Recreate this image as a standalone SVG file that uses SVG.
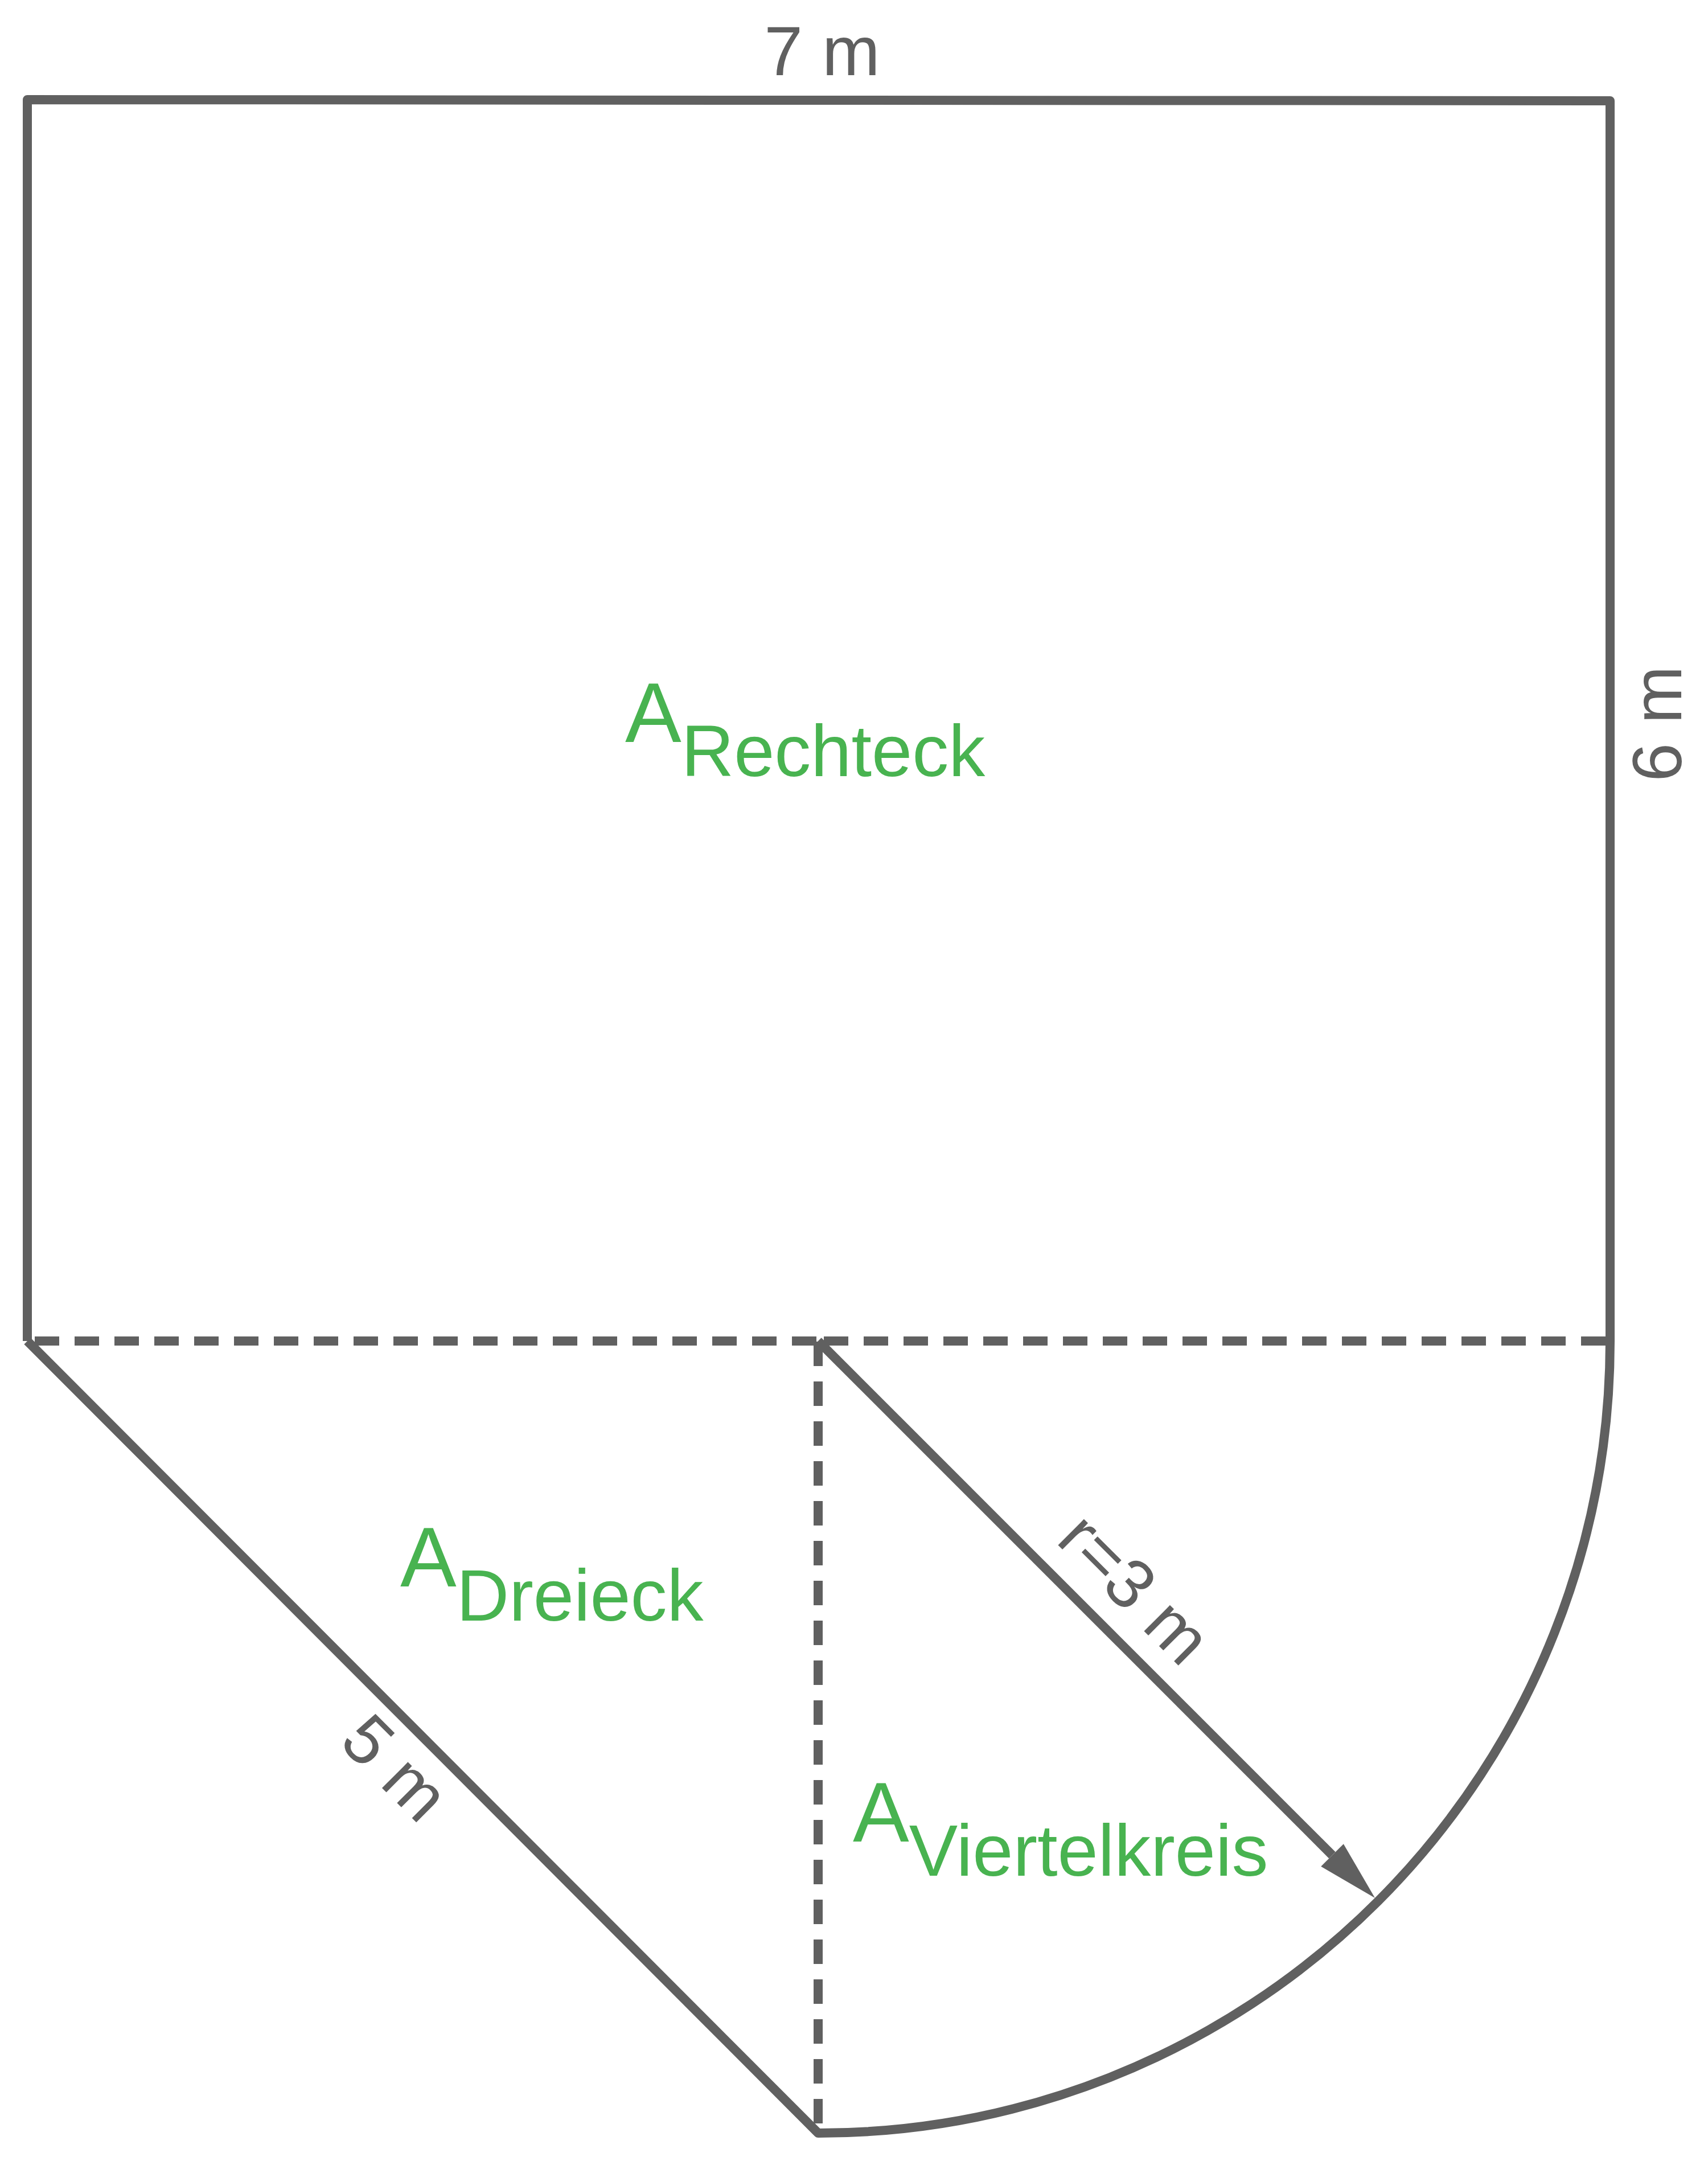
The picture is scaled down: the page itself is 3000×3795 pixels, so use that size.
<svg xmlns="http://www.w3.org/2000/svg" width="3000" height="3795" viewBox="0 0 3000 3795">
<style>
.ln{fill:none;stroke:#606060;stroke-width:16;stroke-linejoin:round}
.dash{fill:none;stroke:#606060;stroke-width:16;stroke-dasharray:43 27}
.dim{font-family:"Liberation Sans",Arial,sans-serif;font-size:122px;fill:#606060}
.lab{font-family:"Liberation Sans",Arial,sans-serif;font-size:148px;fill:#48b350}
.sub{font-size:128px}
</style>
<defs>
<marker id="ah" markerUnits="userSpaceOnUse" viewBox="0 0 106 56" markerWidth="106" markerHeight="56" refX="0" refY="28" orient="auto">
<path d="M0,0 L106,28 L0,56 Z" fill="#606060"/>
</marker>
</defs>
<rect width="3000" height="3795" fill="#ffffff"/>
<g id="outline">
<path class="ln" d="M48,2355 L48,175 L2828,177 L2828,2355 A1391,1391 0 0 1 1437,3746 L48,2355"/>
</g>
<g id="connectors">
<path class="dash" d="M61,2355 H1437"/>
<path class="dash" d="M1447,2355 H2828"/>
<path class="dash" d="M1437,2356 V3746"/>
<path class="ln" d="M1437,2355 L2340,3258" marker-end="url(#ah)"/>
</g>
<g id="dim-7m"><text class="dim" x="1444" y="132" text-anchor="middle">7 m</text></g>
<g id="dim-6m"><text class="dim" transform="translate(2953,1271) rotate(-90)" text-anchor="middle">6 m</text></g>
<g id="dim-5m"><text class="dim" transform="translate(665,3134) rotate(45)" text-anchor="middle">5 m</text></g>
<g id="dim-r"><text class="dim" transform="translate(1964,2819) rotate(45)" text-anchor="middle">r=3 m</text></g>
<g id="A-Rechteck"><text class="lab" x="1098" y="1303">A<tspan class="sub" dy="60">Rechteck</tspan></text></g>
<g id="A-Dreieck"><text class="lab" x="703" y="2786">A<tspan class="sub" dy="60">Dreieck</tspan></text></g>
<g id="A-Viertelkreis"><text class="lab" x="1498" y="3234">A<tspan class="sub" dy="60">Viertelkreis</tspan></text></g>
</svg>
